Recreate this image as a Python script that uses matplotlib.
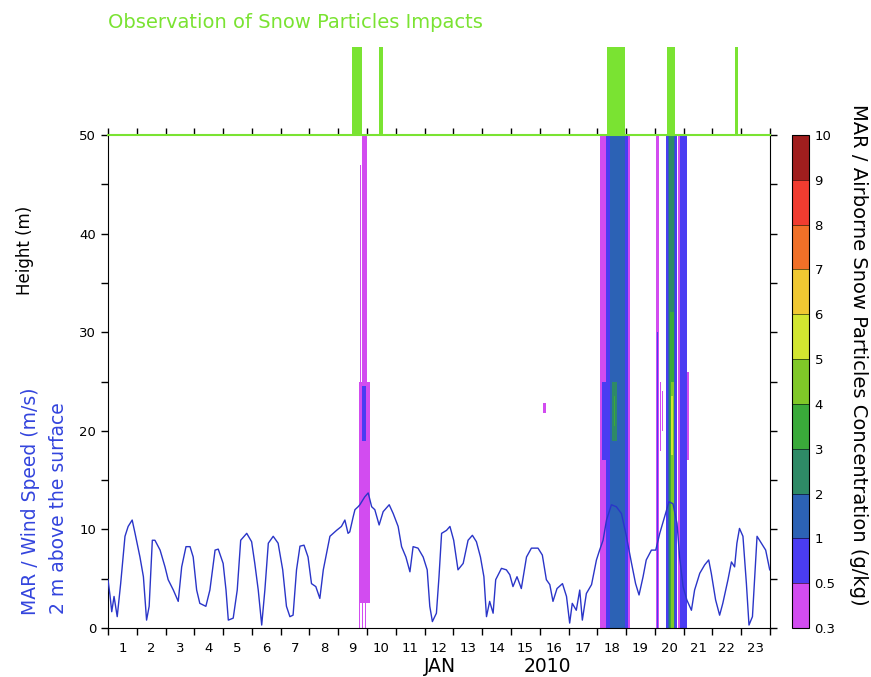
import matplotlib
matplotlib.use("Agg")
import matplotlib.pyplot as plt
import matplotlib.colors as mcolors
import matplotlib.colorbar as mcolorbar
import numpy as np

plt.rcParams['font.family'] = ['DejaVu Sans']

# ---------------- data ----------------
# time in days since 1 Jan 2010 00:00
wind_t = [0.00, 0.07, 0.13, 0.21, 0.32, 0.44, 0.59, 0.70, 0.84, 0.94, 1.11, 1.23, 1.34, 1.43, 1.54,
          1.63, 1.81, 1.98, 2.09, 2.27, 2.44, 2.56, 2.71, 2.85, 2.96, 3.08, 3.19, 3.40, 3.54, 3.72,
          3.83, 4.00, 4.10, 4.18, 4.35, 4.49, 4.61, 4.82, 4.99, 5.10, 5.22, 5.34, 5.45, 5.57, 5.74,
          5.91, 6.07, 6.20, 6.32, 6.43, 6.55, 6.67, 6.81, 6.95, 7.07, 7.22, 7.36, 7.48, 7.71, 7.94,
          8.11, 8.23, 8.34, 8.40, 8.52, 8.58, 8.69, 8.75, 8.92, 9.04, 9.16, 9.27, 9.42, 9.56, 9.77,
          9.91, 10.08, 10.20, 10.35, 10.49, 10.60, 10.77, 10.95, 11.09, 11.18, 11.27, 11.41, 11.50,
          11.59, 11.76, 11.88, 12.01, 12.16, 12.34, 12.51, 12.66, 12.80, 12.94, 13.06, 13.15, 13.26,
          13.38, 13.47, 13.67, 13.84, 13.96, 14.07, 14.21, 14.36, 14.54, 14.71, 14.94, 15.09, 15.23,
          15.35, 15.46, 15.60, 15.79, 15.93, 16.04, 16.13, 16.27, 16.39, 16.48, 16.62, 16.80, 16.97,
          17.08, 17.20, 17.32, 17.49, 17.66, 17.84, 18.01, 18.18, 18.33, 18.45, 18.59, 18.70, 18.88,
          19.03, 19.17, 19.34, 19.49, 19.63, 19.77, 19.86, 19.98, 20.11, 20.27, 20.38, 20.56, 20.73,
          20.87, 20.96, 21.11, 21.25, 21.36, 21.54, 21.66, 21.77, 21.85, 21.94, 22.06, 22.18, 22.27,
          22.39, 22.47, 22.55, 22.70, 22.85, 22.99]
wind_v = [4.9, 3.3, 1.65, 3.2, 1.15, 4.5, 9.3, 10.3, 10.95, 9.6, 7.2, 5.2, 0.8, 2.2, 8.9,
          8.9, 7.9, 6.2, 4.9, 3.85, 2.7, 6.2, 8.25, 8.25, 7.2, 3.85, 2.5, 2.2, 3.85, 7.9,
          8.0, 6.55, 3.85, 0.8, 1.0, 3.85, 8.9, 9.6, 8.75, 6.55, 3.85, 0.3, 3.85, 8.6, 9.3,
          8.6, 5.9, 2.2, 1.15, 1.3, 5.9, 8.3, 8.4, 7.2, 4.5, 4.2, 3.0, 5.9, 9.3, 9.9,
          10.3, 10.95, 9.6, 9.75, 11.3, 12.0, 12.3, 12.5, 13.3, 13.7, 12.3, 12.0, 10.45, 11.8, 12.5,
          11.6, 10.3, 8.25, 7.2, 5.7, 8.25, 8.1, 7.2, 5.9, 2.2, 0.65, 1.5, 5.2,
          9.6, 9.9, 10.3, 8.9, 5.9, 6.55, 8.9, 9.4, 8.75, 7.2, 5.2, 1.15, 2.7,
          1.5, 4.9, 6.05, 5.9, 5.4, 4.2, 5.2, 4.0, 7.2, 8.1, 8.1, 7.4, 4.9,
          4.4, 2.7, 4.0, 4.5, 3.2, 0.5, 2.5, 1.8, 3.85, 0.8, 3.5, 4.4, 6.9,
          7.9, 8.9, 10.95, 12.5, 12.3, 11.6, 9.3, 6.7, 4.5, 3.35, 5.2, 6.9, 7.9,
          7.9, 9.6, 11.3, 12.8, 12.6, 10.6, 7.2, 4.2, 2.85, 1.8, 3.85, 5.55, 6.4,
          6.9, 5.55, 2.85, 1.3, 2.5, 4.9, 6.7, 6.2, 8.6, 10.1, 9.3, 4.5, 0.3,
          1.15, 5.2, 9.3, 8.6, 7.9, 5.9]

# observed snow particle impacts (start/end, days)
obs_start = [8.46, 9.41, 17.34, 19.43, 21.80]
obs_end = [8.83, 9.56, 17.95, 19.71, 21.88]

# modelled airborne snow concentration patches (t0, t1, z0, z1, g/kg)
conc_t0 = [8.72, 8.74, 8.84, 8.81, 8.72, 8.83, 8.92, 15.10,
           17.11, 17.29, 17.15, 17.43, 17.52, 17.57,
           19.03, 19.06, 19.17, 19.24, 19.375, 19.44, 19.50, 19.53, 19.55, 19.56,
           19.79, 19.86, 20.12]
conc_t1 = [9.12, 8.79, 8.99, 8.95, 8.76, 8.87, 8.97, 15.21,
           18.15, 18.05, 18.08, 17.95, 17.70, 17.63,
           19.13, 19.10, 19.20, 19.27, 19.77, 19.70, 19.67, 19.66, 19.65, 19.64,
           19.86, 20.12, 20.17]
conc_z0 = [2.5, 25, 25, 19, 0, 0, 0, 21.8,
           0, 0, 17, 0, 19, 20.5,
           0, 0, 18, 20, 0, 0, 0, 0, 0, 17.5,
           0, 0, 17]
conc_z1 = [25, 47, 50, 24.5, 2.5, 2.5, 2.5, 22.8,
           50, 50, 25, 50, 25, 23.5,
           50, 30, 25, 24, 50, 50, 50, 32, 25, 23.5,
           50, 50, 26]
conc_val = [0.4, 0.4, 0.4, 0.7, 0.4, 0.4, 0.4, 0.4,
            0.4, 0.7, 0.7, 1.5, 2.5, 3.5,
            0.4, 0.7, 0.4, 0.4, 0.7, 1.5, 2.5, 3.5, 4.5, 5.5,
            0.4, 0.7, 0.4]

levels = [0.3, 0.5, 1, 2, 3, 4, 5, 6, 7, 8, 9, 10]
level_labels = ['0.3', '0.5', '1', '2', '3', '4', '5', '6', '7', '8', '9', '10']
level_colors = ['#d24cf0', '#4a3cf2', '#2c62b5', '#2e8a66', '#3aaa3a', '#80c828',
                '#d2e630', '#f0c832', '#f07028', '#f03c30', '#a01e1e']

day_labels = [str(d) for d in range(1, 24)]

# ---------------- figure ----------------
W, H = 871, 677
fig = plt.figure(figsize=(W / 100, H / 100), dpi=100)

def fx(px):
    return px / W

def fy(py):
    return 1 - py / H

green = '#7ae332'
cmap = mcolors.ListedColormap(level_colors)
norm = mcolors.BoundaryNorm(levels, cmap.N)

L, R, T, B = 108, 770, 135, 628
ax = fig.add_axes([fx(L), fy(B), fx(R - L), fy(T) - fy(B)])
ax.set_xlim(0, 23)
ax.set_ylim(0, 50)

for t0, t1, z0, z1, v in zip(conc_t0, conc_t1, conc_z0, conc_z1, conc_val):
    ax.fill_between([t0, t1], [z0, z0], [z1, z1], color=cmap(norm(v)), linewidth=0, zorder=2)

ax.plot(wind_t, wind_v, color='#2a35c8', lw=1.0, zorder=3)

ax.set_xticks(range(0, 24))
ax.set_xticklabels([])
ax.set_xticks([d + 0.5 for d in range(23)], minor=True)
ax.set_xticklabels(day_labels, minor=True)
ax.tick_params(axis='x', which='major', direction='out', length=5, width=1, top=True, bottom=True, color='black')
ax.tick_params(axis='x', which='minor', length=0, pad=10, labelsize=9.5)
ax.set_yticks(range(0, 51, 10))
ax.set_yticks(range(5, 50, 10), minor=True)
ax.tick_params(axis='y', which='both', direction='out', length=5, width=1, left=True, right=True, labelsize=9.5)
for s in ['left', 'right', 'bottom']:
    ax.spines[s].set_color('black')
ax.spines['top'].set_color(green)
ax.spines['top'].set_linewidth(1.5)

# observation panel
axo = fig.add_axes([fx(L), fy(T), fx(R - L), fy(47) - fy(T)])
axo.set_xlim(0, 23)
axo.set_ylim(0, 1)
axo.bar(obs_start, [1] * len(obs_start), width=np.array(obs_end) - np.array(obs_start),
        align='edge', color=green, linewidth=0)
axo.axis('off')
fig.text(fx(108), fy(22), 'Observation of Snow Particles Impacts', color=green,
         fontsize=14, ha='left', va='center')

# axis labels
fig.text(fx(25), fy(250), 'Height (m)', rotation=90, fontsize=12, ha='center', va='center')
fig.text(fx(31), fy(501), 'MAR / Wind Speed (m/s)', rotation=90, fontsize=13.5,
         color='#3344dd', ha='center', va='center')
fig.text(fx(58), fy(508), '2 m above the surface', rotation=90, fontsize=13.5,
         color='#3344dd', ha='center', va='center')
fig.text(fx(440), fy(667), 'JAN', fontsize=13.5, ha='center', va='center')
fig.text(fx(547), fy(667), '2010', fontsize=13.5, ha='center', va='center')

# colorbar
cax = fig.add_axes([fx(792), fy(B), fx(17), fy(T) - fy(B)])
cb = mcolorbar.ColorbarBase(cax, cmap=cmap, norm=norm, boundaries=levels, ticks=levels,
                            spacing='uniform', drawedges=True)
cb.set_ticklabels(level_labels)
cb.outline.set_edgecolor('black')
cb.dividers.set_color('black')
cax.tick_params(length=0, labelsize=9.5, pad=4)
fig.text(fx(858), fy(355), 'MAR / Airborne Snow Particles Concentration (g/kg)', rotation=270,
         fontsize=14, ha='center', va='center')

fig.savefig('out.png', dpi=100)
